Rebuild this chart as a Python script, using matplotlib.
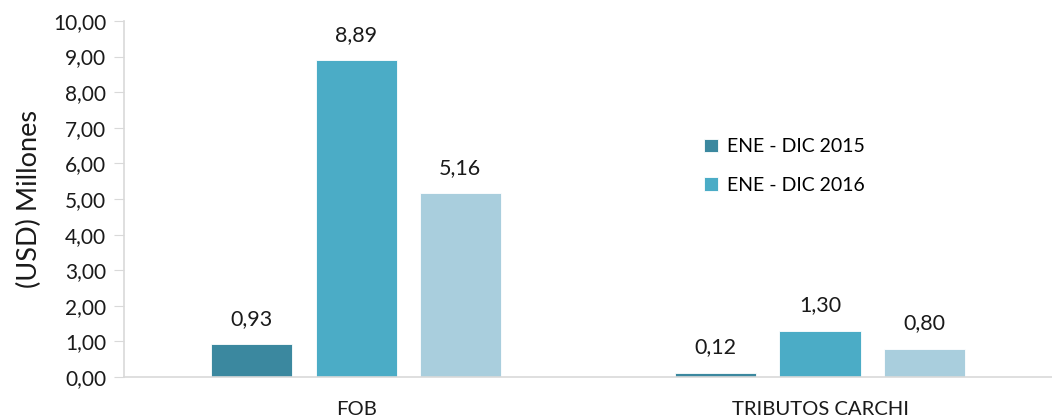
import numpy as np
import matplotlib.pyplot as plt

plt.rcParams['font.family'] = ['Lato', 'DejaVu Sans']

categorias = ['FOB', 'TRIBUTOS CARCHI']
serie_2015 = [0.93, 0.12]
serie_2016 = [8.89, 1.30]
serie_3 = [5.16, 0.80]
etiquetas = ['ENE - DIC 2015', 'ENE - DIC 2016', '_nolegend_']
colores = ['#3B889F', '#4BACC6', '#A9CEDD']
y_ticks = np.arange(0, 10.01, 1)


def grafica():
    fig = plt.figure(figsize=(10.52, 4.19), dpi=100)
    ax = fig.add_axes([0.118, 0.100, 0.882, 0.850])
    x = np.arange(len(categorias))
    ancho = 0.175
    paso = 0.2246
    series = [serie_2015, serie_2016, serie_3]
    for i, valores in enumerate(series):
        pos = x + (i - 1) * paso
        barras = ax.bar(pos, valores, ancho, color=colores[i], label=etiquetas[i],
                        edgecolor='white', linewidth=0.6, zorder=2)
        for b, v in zip(barras, valores):
            ax.annotate(f'{v:.2f}'.replace('.', ','),
                        (b.get_x() + b.get_width() / 2, v),
                        xytext=(0, 11), textcoords='offset points',
                        ha='center', va='bottom', fontsize=15.5, color='#1a1a1a')

    ax.set_xlim(-0.5, 1.5)
    ax.set_ylim(0, 10)
    ax.set_yticks(y_ticks)
    ax.set_yticklabels([f'{t:.2f}'.replace('.', ',') for t in y_ticks])
    ax.set_xticks(x)
    ax.set_xticklabels(categorias)
    ax.tick_params(axis='y', length=7, color='#D9D9D9', labelsize=15,
                   labelcolor='#1a1a1a', pad=6)
    ax.tick_params(axis='x', length=0, labelsize=14.6, labelcolor='#1a1a1a', pad=17)
    for lado in ['top', 'right']:
        ax.spines[lado].set_visible(False)
    for lado in ['left', 'bottom']:
        ax.spines[lado].set_color('#D9D9D9')
        ax.spines[lado].set_linewidth(1.2)
    ax.set_ylabel('(USD) Millones', fontsize=19.5, color='#1a1a1a', labelpad=8)

    ax.legend(loc='upper left', bbox_to_anchor=(0.606, 0.72), frameon=False,
              fontsize=14, handlelength=0.7, handleheight=0.7,
              handletextpad=0.5, labelspacing=1.1)
    fig.savefig('out.png', dpi=100)


if __name__ == '__main__':
    grafica()
